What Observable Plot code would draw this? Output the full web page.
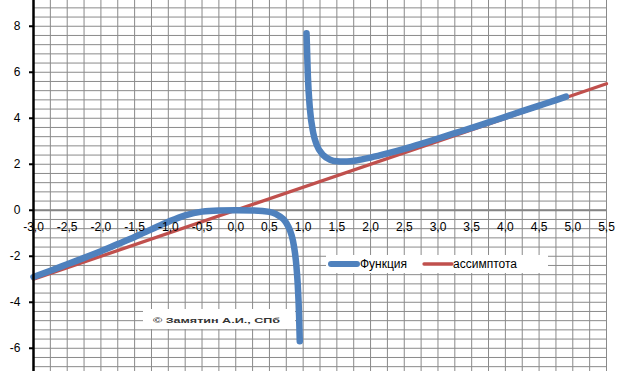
<!DOCTYPE html>
<html>
<head>
<meta charset="utf-8">
<script src="https://cdn.jsdelivr.net/npm/d3@7"></script>
<script src="https://cdn.jsdelivr.net/npm/@observablehq/plot@0.6"></script>
<style>
  html, body { margin: 0; padding: 0; background: #fff; }
  #chart svg { display: block; }
</style>
</head>
<body>
<div id="chart"></div>
<script>
// Function branch left of x = 1
const leftX = [-3.0, -2.75, -2.5, -2.25, -2.0, -1.75, -1.5, -1.25, -1.0, -0.75, -0.5, -0.25, 0, 0.25, 0.5, 0.6, 0.7, 0.75, 0.8, 0.85, 0.88, 0.9, 0.92, 0.94, 0.95];
const leftY = [-2.9, -2.63, -2.35, -2.07, -1.78, -1.47, -1.16, -0.83, -0.5, -0.22, -0.06, -0.01, 0, -0.01, -0.07, -0.17, -0.37, -0.55, -0.84, -1.34, -1.88, -2.42, -3.24, -4.6, -5.7];
// Function branch right of x = 1
const rightX = [1.05, 1.07, 1.1, 1.15, 1.2, 1.3, 1.4, 1.5, 1.6, 1.7, 1.8, 2.0, 2.25, 2.5, 2.75, 3.0, 3.25, 3.5, 3.75, 4.0, 4.25, 4.5, 4.75, 4.9];
const rightY = [7.7, 5.83, 4.42, 3.36, 2.85, 2.39, 2.2, 2.13, 2.12, 2.13, 2.17, 2.29, 2.47, 2.67, 2.89, 3.12, 3.35, 3.58, 3.82, 4.06, 4.31, 4.55, 4.79, 4.94];
// Asymptote y = x
const asymX = [-3.0, 5.5];
const asymY = [-3.0, 5.5];

// Axis ticks and labels
const xTicks = [-3.0, -2.5, -2.0, -1.5, -1.0, -0.5, 0.0, 0.5, 1.0, 1.5, 2.0, 2.5, 3.0, 3.5, 4.0, 4.5, 5.0, 5.5];
const xTickLabels = ["-3,0", "-2,5", "-2,0", "-1,5", "-1,0", "-0,5", "0,0", "0,5", "1,0", "1,5", "2,0", "2,5", "3,0", "3,5", "4,0", "4,5", "5,0", "5,5"];
const yTicks = [-6, -4, -2, 0, 2, 4, 6, 8];
const yTickLabels = ["-6", "-4", "-2", "0", "2", "4", "6", "8"];
const xGrid = d3.range(-3, 5.5001, 0.25);
const yGrid = d3.range(-17, 23).map(k => +(k * 0.4).toFixed(2));

const seriesNames = ["Функция", "ассимптота"];
const credit = "© Замятин А.И., СПб";

const BLUE = "#4F81BD", RED = "#C0504D";
const FONT = "'Liberation Sans', Arial, sans-serif";

const left = leftX.map((x, i) => ({x, y: leftY[i], b: "L"}));
const right = rightX.map((x, i) => ({x, y: rightY[i], b: "R"}));
const asym = asymX.map((x, i) => ({x, y: asymY[i]}));

const plot = Plot.plot({
  width: 618,
  height: 371,
  marginLeft: 33,
  marginRight: 12,
  marginTop: 0,
  marginBottom: 0,
  style: {fontFamily: FONT, fontSize: "12px", color: "#000", background: "#fff"},
  x: {domain: [-3, 5.5], axis: null},
  y: {domain: [-7.01, 9.12], axis: null},
  marks: [
    Plot.ruleX(xGrid, {stroke: "#8a8a8a", strokeWidth: 1}),
    Plot.ruleY(yGrid, {stroke: "#8a8a8a", strokeWidth: 1}),
    Plot.ruleY([0], {stroke: "#858585", strokeWidth: 2}),
    Plot.line(asym, {x: "x", y: "y", stroke: RED, strokeWidth: 3.3}),
    Plot.line(left.concat(right), {x: "x", y: "y", z: "b", stroke: BLUE, strokeWidth: 6.5, strokeLinecap: "round", strokeLinejoin: "round", curve: "monotone-x"}),
    Plot.text(xTicks, {x: d => d, y: 0, text: (d, i) => xTickLabels[i], dy: 17, fill: "#000", fontSize: 12}),
    Plot.axisY(yTicks, {anchor: "left", label: null, tickSize: 4, tickPadding: 9, tickFormat: (d) => yTickLabels[yTicks.indexOf(d)], stroke: "#000", strokeWidth: 2, fill: "#000", fontSize: 12}),
    Plot.ruleX([-3], {stroke: "#000", strokeWidth: 2.5})
  ]
});

document.getElementById("chart").appendChild(plot);

// Legend (inside plot area, as in the reference)
const svg = d3.select(plot);
const lg = svg.append("g").attr("font-family", FONT).attr("font-size", 12).attr("text-anchor", "start");
lg.append("rect").attr("x", 326).attr("y", 255).attr("width", 222).attr("height", 18).attr("fill", "#fff");
lg.append("line").attr("x1", 331).attr("x2", 357).attr("y1", 264).attr("y2", 264)
  .attr("stroke", BLUE).attr("stroke-width", 6).attr("stroke-linecap", "round");
lg.append("text").attr("x", 360).attr("y", 264).attr("dy", "0.35em").attr("fill", "#000").text(seriesNames[0]);
lg.append("line").attr("x1", 424).attr("x2", 452).attr("y1", 264).attr("y2", 264)
  .attr("stroke", RED).attr("stroke-width", 3.3).attr("stroke-linecap", "round");
lg.append("text").attr("x", 453).attr("y", 264).attr("dy", "0.35em").attr("fill", "#000").text(seriesNames[1]);

// Credit box
const cg = svg.append("g").attr("text-anchor", "start");
cg.append("rect").attr("x", 143).attr("y", 309).attr("width", 152).attr("height", 20).attr("fill", "#fff");
cg.append("text").attr("x", 153).attr("y", 320).attr("dy", "0.35em")
  .attr("font-family", FONT).attr("font-size", 8).attr("font-weight", "bold").attr("fill", "#333")
  .attr("textLength", 127).attr("lengthAdjust", "spacingAndGlyphs").text(credit);
</script>
</body>
</html>
